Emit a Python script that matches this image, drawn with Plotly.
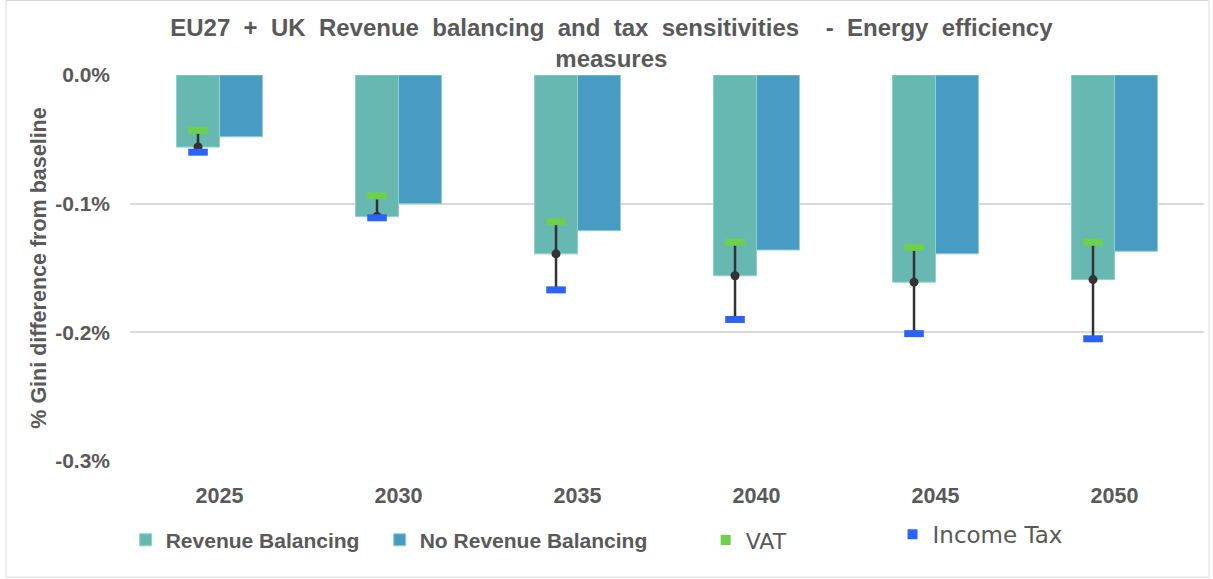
import plotly.graph_objects as go

# Gini change (% points of baseline) for each projection year
years = ["2025", "2030", "2035", "2040", "2045", "2050"]
revenue_balancing = [-0.056, -0.110, -0.139, -0.156, -0.161, -0.159]
no_revenue_balancing = [-0.048, -0.100, -0.121, -0.136, -0.139, -0.137]
vat = [-0.043, -0.094, -0.114, -0.130, -0.134, -0.130]
income_tax = [-0.060, -0.111, -0.167, -0.190, -0.201, -0.205]
y_ticks = [0.0, -0.1, -0.2, -0.3]

TEXT = "#595959"
FONT = "Liberation Sans, Arial, sans-serif"
FONT_ALT = "DejaVu Sans, sans-serif"
C_RB = "#67B8B0"
C_NRB = "#489CC4"
C_VAT = "#6DD14B"
C_IT = "#2A63F6"
C_ERR = "#333333"

BAR_W = 0.24
xpos = list(range(len(years)))
x_rb = [x - BAR_W / 2 for x in xpos]

fig = go.Figure()

fig.add_trace(go.Bar(
    x=xpos, y=revenue_balancing, width=BAR_W, offset=-BAR_W,
    name="Revenue Balancing", marker=dict(color=C_RB, line=dict(color="#8fd0c8", width=1)),
    legend="legend",
))
fig.add_trace(go.Bar(
    x=xpos, y=no_revenue_balancing, width=BAR_W, offset=0,
    name="No Revenue Balancing", marker=dict(color=C_NRB, line=dict(color="#8fd0c8", width=1)),
    legend="legend2",
))

# sensitivity range: VAT (upper) to income tax (lower) around the balanced value
fig.add_trace(go.Scatter(
    x=x_rb, y=revenue_balancing, mode="markers",
    marker=dict(color=C_ERR, size=9),
    error_y=dict(
        type="data", symmetric=False,
        array=[v - r for v, r in zip(vat, revenue_balancing)],
        arrayminus=[r - i for r, i in zip(revenue_balancing, income_tax)],
        color=C_ERR, thickness=2.5, width=6,
    ),
    showlegend=False, hoverinfo="skip",
))
fig.add_trace(go.Scatter(
    x=x_rb, y=vat, mode="markers", showlegend=False,
    marker=dict(symbol="line-ew", size=14, line=dict(color=C_VAT, width=7)),
))
fig.add_trace(go.Scatter(
    x=x_rb, y=income_tax, mode="markers", showlegend=False,
    marker=dict(symbol="line-ew", size=14, line=dict(color=C_IT, width=7)),
))

# legend swatches for the sensitivity markers
fig.add_trace(go.Scatter(
    x=[None], y=[None], mode="markers", name="VAT",
    marker=dict(symbol="square", size=10, color=C_VAT), legend="legend3",
))
fig.add_trace(go.Scatter(
    x=[None], y=[None], mode="markers", name="Income Tax",
    marker=dict(symbol="square", size=10, color=C_IT), legend="legend4",
))

legend_common = dict(
    orientation="h", yanchor="middle", xanchor="left",
    bgcolor="rgba(0,0,0,0)", itemwidth=30,
)
font_main = dict(family=FONT, size=21, color=TEXT, weight="bold")
font_alt = dict(family=FONT_ALT, size=22, color=TEXT)

sp = "\u00a0 "
title_text = sp.join(["EU27", "+", "UK", "Revenue", "balancing", "and", "tax",
                      "sensitivities", "", "-", "Energy", "efficiency"]) + "<br>measures"

fig.update_layout(
    width=1213, height=579,
    margin=dict(l=130, r=9, t=75, b=118),
    paper_bgcolor="white", plot_bgcolor="white",
    barmode="overlay",
    title=dict(
        text=title_text,
        x=0.504, xanchor="center", y=0.938, yanchor="top",
        font=dict(family=FONT, size=24, color=TEXT, weight="bold"),
    ),
    xaxis=dict(
        range=[-0.5, len(years) - 0.5],
        tickvals=xpos, ticktext=years,
        showgrid=False, zeroline=False, showline=False,
        tickfont=dict(family=FONT, size=21.5, color=TEXT, weight="bold"),
        ticklabelstandoff=19,
    ),
    yaxis=dict(
        range=[-0.3, 0], tickvals=y_ticks,
        ticktext=[f"{v:.1f}%" for v in y_ticks],
        showgrid=True, gridcolor="#d9d9d9", gridwidth=1.5,
        zeroline=False, showline=False,
        tickfont=dict(family=FONT, size=21, color=TEXT, weight="bold"),
        ticklabelstandoff=19,
        title=dict(text="% Gini difference from baseline", standoff=2,
                   font=dict(family=FONT, size=21.5, color=TEXT, weight="bold")),
    ),
    legend=dict(x=-0.004, y=-0.205, font=font_main, **legend_common),
    legend2=dict(x=0.2325, y=-0.205, font=font_main, **legend_common),
    legend3=dict(x=0.536, y=-0.205, font=font_alt, **legend_common),
    legend4=dict(x=0.710, y=-0.19, font=dict(family=FONT_ALT, size=23, color=TEXT),
                 **legend_common),
    shapes=[dict(
        type="rect", xref="paper", yref="paper",
        x0=-0.1155, x1=1.0047, y0=-0.301, y1=1.193,
        line=dict(color="#d9d9d9", width=1), fillcolor="rgba(0,0,0,0)",
    )],
)

fig.write_html("out.html")
